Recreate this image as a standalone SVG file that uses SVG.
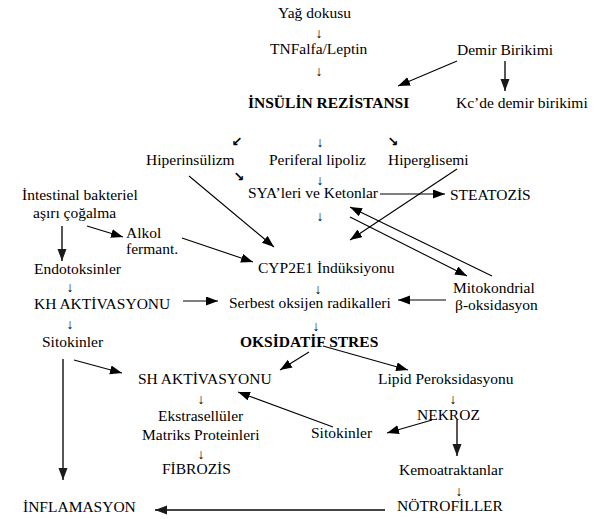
<svg xmlns="http://www.w3.org/2000/svg" width="602" height="519" viewBox="0 0 602 519">
<defs>
<marker id="ah" markerUnits="userSpaceOnUse" markerWidth="13" markerHeight="10" refX="12" refY="4.5" orient="auto"><path d="M0,0 L12,4.5 L0,9 z" fill="#000"/></marker>
<marker id="ahg" markerUnits="userSpaceOnUse" markerWidth="13" markerHeight="10" refX="12" refY="4.5" orient="auto"><path d="M0,0 L12,4.5 L0,9 z" fill="#1a1a1a"/></marker>
</defs>
<style>
text{font-family:"Liberation Serif","Times New Roman",serif;font-size:15.5px;fill:#000}
.b{font-weight:bold}
.ar{text-anchor:middle;font-size:14px}
.sa{font-family:"DejaVu Sans",sans-serif;font-size:13px;text-anchor:middle;font-weight:bold}
.c line{stroke:#000;stroke-width:1.1;marker-end:url(#ah)}
.c line.g{stroke:#444;stroke-width:1.8;marker-end:url(#ahg)}
</style>
<rect width="602" height="519" fill="#fff"/>
<g id="yag"><text x="278" y="18">Yağ dokusu</text><text class="ar" x="319" y="38">↓</text></g>
<g id="tnf"><text x="270" y="54">TNFalfa/Leptin</text><text class="ar" x="319" y="76">↓</text></g>
<g id="insulin"><text class="b" x="248" y="108">İNSÜLİN REZİSTANSI</text></g>
<g id="demir"><text x="457" y="55">Demir Birikimi</text></g>
<g id="kc"><text x="456" y="108">Kc’de demir birikimi</text></g>
<g id="smallarrows"><text class="sa" x="237" y="146">↙</text><text class="ar" x="320" y="147">↓</text><text class="sa" x="393" y="146">↘</text></g>
<g id="hiperins"><text x="146" y="165">Hiperinsülizm</text><text class="sa" x="239" y="181">↘</text></g>
<g id="periferal"><text x="269" y="165">Periferal lipoliz</text><text class="ar" x="320" y="185">↓</text></g>
<g id="hipergl"><text x="388" y="165">Hiperglisemi</text></g>
<g id="sya"><text x="248" y="198">SYA’leri ve Ketonlar</text><text class="ar" x="320" y="221">↓</text></g>
<g id="steatozis"><text x="450" y="200">STEATOZİS</text></g>
<g id="intestinal"><text x="22" y="200">İntestinal bakteriel</text><text x="33" y="218">aşırı çoğalma</text></g>
<g id="alkol"><text x="126" y="238">Alkol</text><text x="126" y="254">fermant.</text></g>
<g id="endotoksin"><text x="34" y="274">Endotoksinler</text><text class="ar" x="70" y="292">↓</text></g>
<g id="cyp"><text x="258" y="273">CYP2E1 İndüksiyonu</text><text class="ar" x="318" y="294">↓</text></g>
<g id="mito"><text x="453" y="293">Mitokondrial</text><text x="455" y="310">β-oksidasyon</text></g>
<g id="kh"><text x="34" y="309">KH AKTİVASYONU</text><text class="ar" x="70" y="329">↓</text></g>
<g id="serbest"><text x="229" y="308">Serbest oksijen radikalleri</text><text class="ar" x="316" y="331">↓</text></g>
<g id="sitokinL"><text x="42" y="347">Sitokinler</text></g>
<g id="oks"><text class="b" x="240" y="347">OKSİDATİF STRES</text></g>
<g id="sh"><text x="138" y="384">SH AKTİVASYONU</text><text class="ar" x="201" y="404">↓</text></g>
<g id="lipid"><text x="378" y="384">Lipid Peroksidasyonu</text><text class="ar" x="453" y="404">↓</text></g>
<g id="ekstra"><text x="158" y="421">Ekstrasellüler</text><text x="142" y="440">Matriks Proteinleri</text><text class="ar" x="201" y="459">↓</text></g>
<g id="nekroz"><text x="417" y="420">NEKROZ</text></g>
<g id="sitokinR"><text x="311" y="438">Sitokinler</text></g>
<g id="fibrozis"><text x="162" y="474">FİBROZİS</text></g>
<g id="kemo"><text x="399" y="475">Kemoatraktanlar</text><text class="ar" x="459" y="496">↓</text></g>
<g id="inflam"><text x="23" y="512">İNFLAMASYON</text></g>
<g id="notro"><text x="397" y="511">NÖTROFİLLER</text></g>
<g id="connectors" class="c">
<line x1="457" y1="61" x2="398" y2="86"/>
<line class="g" x1="505" y1="61" x2="505" y2="91"/>
<line x1="189" y1="176" x2="274" y2="247"/>
<line x1="380" y1="194" x2="445" y2="194"/>
<line x1="457" y1="169" x2="350" y2="240"/>
<line x1="350" y1="217" x2="467" y2="276"/>
<line x1="492" y1="276" x2="350" y2="207"/>
<line x1="87" y1="226" x2="123" y2="237"/>
<line class="g" x1="62" y1="226" x2="62" y2="261"/>
<line x1="182" y1="238" x2="253" y2="262"/>
<line x1="183" y1="301" x2="218" y2="301"/>
<line x1="446" y1="300" x2="398" y2="300"/>
<line x1="309" y1="352" x2="280" y2="370"/>
<line x1="323" y1="346" x2="408" y2="370"/>
<line x1="74" y1="360" x2="122" y2="373"/>
<line class="g" x1="63" y1="359" x2="63" y2="480"/>
<line x1="333" y1="427" x2="238" y2="392"/>
<line x1="432" y1="420" x2="387" y2="433"/>
<line class="g" x1="457" y1="420" x2="457" y2="456"/>
<line class="g" x1="385" y1="510" x2="155" y2="510"/>
</g>
</svg>
